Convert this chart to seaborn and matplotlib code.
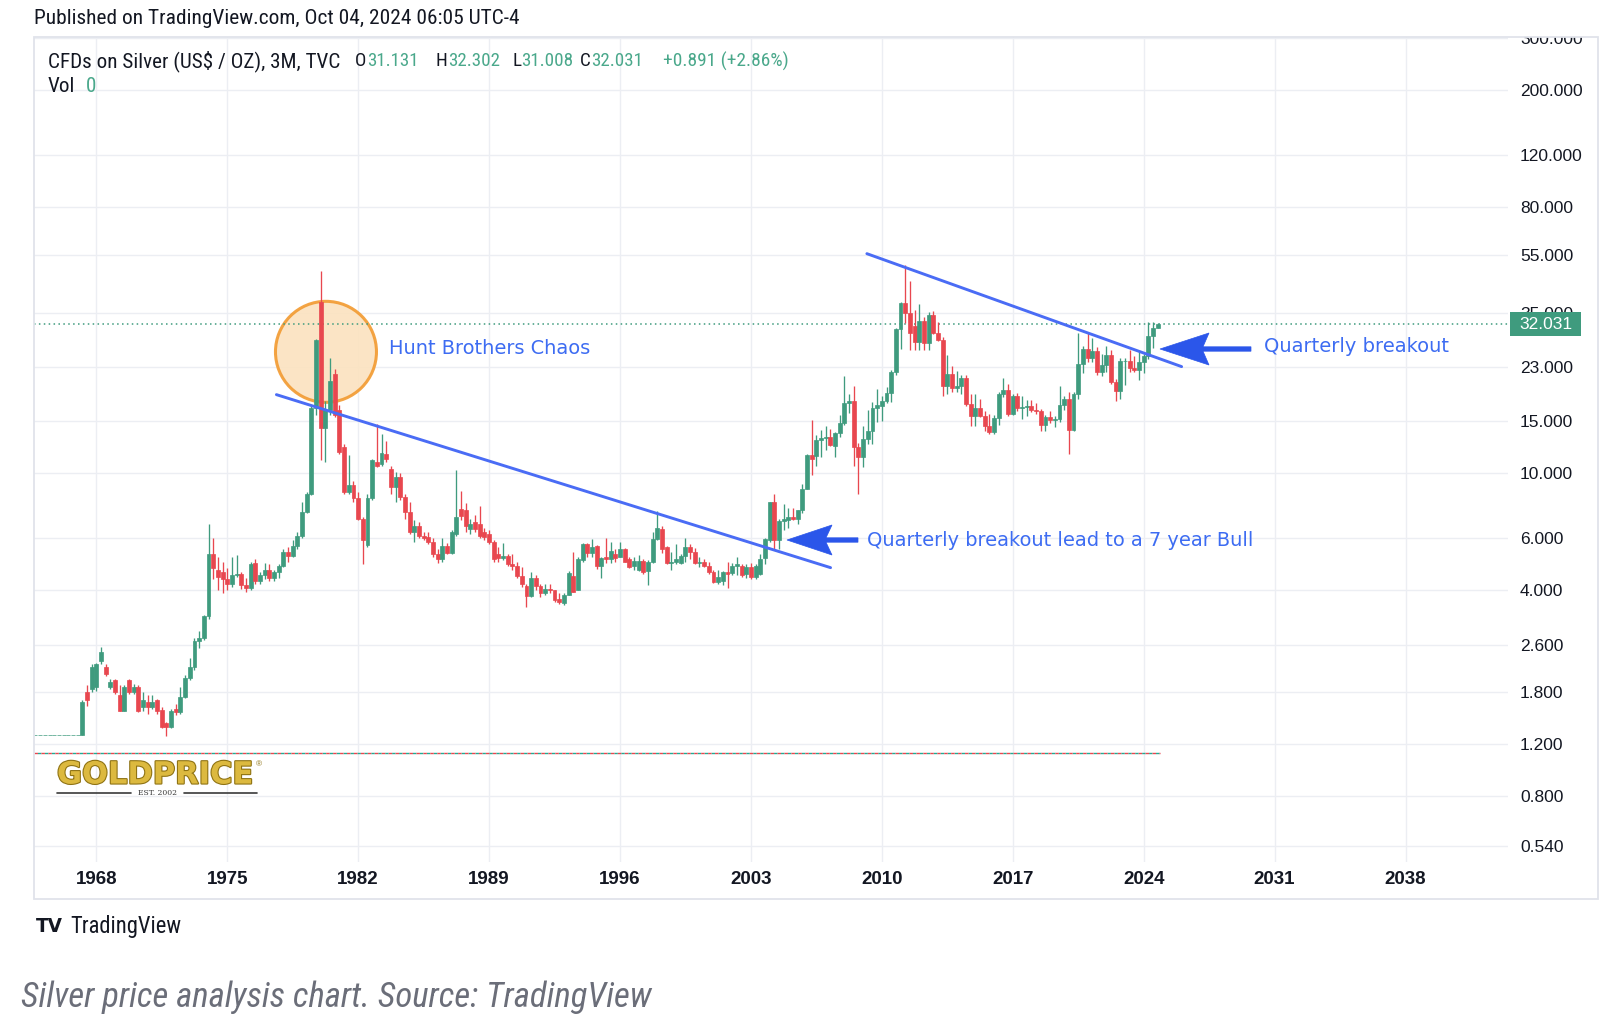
import numpy as np
import pandas as pd
import matplotlib
matplotlib.use("Agg")
import matplotlib.pyplot as plt
import matplotlib.patheffects as pe
from matplotlib.patches import Ellipse, Rectangle, Polygon
from matplotlib.transforms import IdentityTransform
from matplotlib.ticker import NullLocator
from matplotlib import font_manager as fm
import seaborn as sns

# ---------------- data (quarterly candles, TVC silver CFD) ----------------
first_quarter = "1964Q4"

opens = [
    1.293,
    1.293, 1.293, 1.293, 1.293,   # 1965
    1.293, 1.293, 1.293, 1.293,   # 1966
    1.293, 1.293, 1.80, 1.85,     # 1967
    1.87, 2.30, 2.20, 1.87,       # 1968
    1.98, 1.76, 1.56, 1.98,       # 1969
    1.80, 1.87, 1.60, 1.67,       # 1970
    1.60, 1.69, 1.57, 1.41,       # 1971
    1.37, 1.58, 1.54, 1.73,       # 1972
    2.02, 2.20, 2.68, 2.75,       # 1973
    3.26, 5.30, 4.70, 4.60,       # 1974
    4.35, 4.20, 4.50, 4.55,       # 1975
    4.18, 4.07, 4.93, 4.30,       # 1976
    4.50, 4.70, 4.40, 4.60,       # 1977
    4.85, 5.40, 5.23, 5.66,       # 1978
    6.12, 7.40, 8.50, 16.6,       # 1979
    38.0, 14.2, 16.4, 21.7,       # 1980
    16.4, 12.3, 8.6, 9.1,         # 1981
    8.2, 7.0, 5.7, 8.2,           # 1982
    10.9, 10.77, 11.56, 10.35,    # 1983
    8.96, 9.69, 8.28, 7.36,       # 1984
    6.29, 6.6, 6.12, 6.04,        # 1985
    5.81, 5.3, 5.09, 5.66,        # 1986
    5.37, 6.2, 7.55, 7.5,         # 1987
    6.45, 6.8, 6.71, 6.29,        # 1988
    6.2, 5.81, 5.3, 5.16,         # 1989
    5.23, 4.9, 4.83, 4.47,        # 1990
    4.13, 3.81, 4.41, 4.13,       # 1991
    3.9, 4.05, 4.0, 3.72,         # 1992
    3.62, 3.85, 4.47, 4.0,        # 1993
    5.05, 5.73, 5.37, 5.66,       # 1994
    4.83, 5.2, 5.09, 5.3,         # 1995
    5.2, 5.51, 5.09, 4.83,        # 1996
    4.7, 5.02, 4.65, 5.0,         # 1997
    5.96, 6.45, 5.6, 4.96,        # 1998
    5.0, 4.95, 5.23, 5.6,         # 1999
    5.4, 4.96, 4.98, 4.85,        # 2000
    4.6, 4.28, 4.3, 4.6,          # 2001
    4.59, 4.83, 4.83, 4.55,       # 2002
    4.78, 4.45, 4.55, 5.15,       # 2003
    5.9, 7.96, 5.9, 6.85,         # 2004
    6.9, 7.1, 7.0, 7.5,           # 2005
    8.85, 11.5, 11.4, 12.9,       # 2006
    13.2, 13.3, 12.4, 13.7,       # 2007
    14.8, 17.3, 17.5, 12.3,       # 2008
    11.3, 13.0, 13.9, 16.6,       # 2009
    16.9, 17.5, 18.7, 22.1,       # 2010
    30.9, 37.9, 34.9, 31.5,       # 2011
    27.9, 32.8, 27.6, 34.5,       # 2012
    30.0, 28.3, 19.7, 21.7,       # 2013
    19.5, 19.8, 21.0, 17.1,       # 2014
    15.6, 16.6, 15.6, 14.5,       # 2015
    13.8, 15.4, 18.6, 19.2,       # 2016
    15.9, 18.2, 16.6, 16.7,       # 2017
    16.9, 16.4, 16.3, 14.6,       # 2018
    15.5, 15.1, 15.3, 17.0,       # 2019
    17.9, 14.0, 18.5, 23.4,       # 2020
    26.4, 24.5, 26.0, 22.0,       # 2021
    23.3, 25.1, 20.3, 19.0,       # 2022
    24.0, 24.1, 22.8, 22.3,       # 2023
    23.8, 24.9, 29.1, 31.131,     # 2024
]

highs = [
    1.293,
    1.293, 1.293, 1.293, 1.293,   # 1965
    1.293, 1.293, 1.293, 1.293,   # 1966
    1.293, 1.70, 1.90, 2.24,      # 1967
    2.26, 2.56, 2.24, 2.00,       # 1968
    2.00, 1.90, 1.90, 2.00,       # 1969
    1.92, 1.90, 1.80, 1.76,       # 1970
    1.76, 1.71, 1.60, 1.43,       # 1971
    1.58, 1.64, 1.87, 2.06,       # 1972
    2.35, 2.75, 2.90, 3.30,       # 1973
    6.71, 6.00, 5.20, 5.00,       # 1974
    4.75, 5.20, 5.25, 4.60,       # 1975
    4.40, 5.00, 5.10, 4.60,       # 1976
    4.95, 4.90, 4.70, 4.90,       # 1977
    5.50, 5.60, 5.90, 6.30,       # 1978
    7.96, 8.60, 17.0, 28.5,       # 1979
    48.5, 17.5, 24.6, 22.5,       # 1980
    17.0, 12.5, 11.5, 9.4,        # 1981
    8.6, 7.1, 8.5, 11.2,          # 1982
    14.7, 13.6, 12.8, 10.6,       # 1983
    10.1, 10.0, 8.5, 7.96,        # 1984
    6.9, 6.8, 6.3, 6.3,           # 1985
    6.0, 5.5, 6.0, 5.8,           # 1986
    6.4, 10.2, 8.7, 7.9,          # 1987
    7.0, 7.2, 7.75, 6.5,          # 1988
    6.4, 5.9, 5.6, 5.8,           # 1989
    5.3, 5.3, 5.0, 4.8,           # 1990
    4.2, 4.6, 4.5, 4.2,           # 1991
    4.2, 4.2, 4.02, 3.9,          # 1992
    3.9, 4.65, 5.4, 5.2,          # 1993
    5.8, 5.8, 5.96, 5.7,          # 1994
    5.2, 6.0, 5.81, 5.5,          # 1995
    5.85, 5.55, 5.2, 5.2,         # 1996
    5.25, 5.1, 5.05, 6.3,         # 1997
    7.45, 6.6, 5.65, 5.4,         # 1998
    5.73, 5.3, 6.0, 5.75,         # 1999
    5.55, 5.2, 5.1, 5.0,          # 2000
    4.7, 4.7, 4.65, 5.0,          # 2001
    4.96, 5.2, 4.9, 4.9,          # 2002
    4.96, 4.9, 5.3, 6.0,          # 2003
    8.0, 8.5, 7.0, 7.86,          # 2004
    7.6, 7.6, 7.5, 9.2,           # 2005
    11.6, 15.15, 13.5, 14.0,      # 2006
    14.5, 14.1, 13.8, 15.8,       # 2007
    21.3, 18.6, 19.7, 12.6,       # 2008
    14.4, 16.4, 17.4, 19.3,       # 2009
    18.2, 19.6, 22.3, 31.2,       # 2010
    38.2, 50.8, 45.0, 35.8,       # 2011
    37.5, 33.8, 35.3, 35.4,       # 2012
    32.5, 28.9, 25.1, 23.1,       # 2013
    22.2, 21.6, 21.6, 18.5,       # 2014
    18.5, 17.8, 16.2, 15.9,       # 2015
    15.8, 18.8, 21.1, 20.0,       # 2016
    18.6, 18.7, 18.2, 17.7,       # 2017
    17.7, 17.3, 16.5, 15.7,       # 2018
    16.2, 15.6, 19.7, 18.2,       # 2019
    18.9, 18.9, 29.9, 26.9,       # 2020
    30.1, 28.8, 26.7, 25.4,       # 2021
    27.0, 26.2, 20.9, 24.6,       # 2022
    24.6, 26.1, 25.0, 25.9,       # 2023
    25.3, 32.5, 32.7, 32.302,     # 2024
]

lows = [
    1.293,
    1.293, 1.293, 1.293, 1.293,   # 1965
    1.293, 1.293, 1.293, 1.293,   # 1966
    1.293, 1.29, 1.62, 1.80,      # 1967
    1.82, 2.25, 2.04, 1.85,       # 1968
    1.78, 1.55, 1.55, 1.77,       # 1969
    1.78, 1.54, 1.55, 1.52,       # 1970
    1.58, 1.52, 1.36, 1.28,       # 1971
    1.36, 1.51, 1.52, 1.72,       # 1972
    1.98, 2.15, 2.55, 2.70,       # 1973
    3.20, 4.35, 4.00, 3.92,       # 1974
    4.00, 4.10, 4.45, 4.05,       # 1975
    3.95, 4.00, 4.20, 4.20,       # 1976
    4.35, 4.30, 4.30, 4.40,       # 1977
    4.80, 5.00, 5.20, 5.50,       # 1978
    6.00, 7.30, 8.40, 15.8,       # 1979
    11.05, 10.9, 15.8, 15.5,      # 1980
    11.6, 8.5, 8.5, 8.0,          # 1981
    6.9, 4.9, 5.6, 8.1,           # 1982
    10.5, 10.6, 10.9, 8.5,        # 1983
    8.0, 8.1, 6.98, 6.2,          # 1984
    5.81, 6.0, 5.9, 5.75,         # 1985
    5.2, 4.96, 5.0, 5.3,          # 1986
    5.3, 6.1, 6.9, 6.3,           # 1987
    6.2, 6.3, 6.0, 5.9,           # 1988
    5.75, 5.0, 5.0, 5.05,         # 1989
    4.85, 4.7, 4.4, 4.1,          # 1990
    3.5, 3.8, 4.0, 3.8,           # 1991
    3.85, 3.9, 3.65, 3.6,         # 1992
    3.55, 3.85, 3.95, 4.0,        # 1993
    5.0, 5.2, 5.2, 4.71,          # 1994
    4.4, 4.96, 4.96, 5.0,         # 1995
    5.2, 5.0, 4.75, 4.7,          # 1996
    4.65, 4.55, 4.18, 4.95,       # 1997
    5.9, 5.37, 4.9, 4.7,          # 1998
    4.9, 4.9, 5.0, 5.1,           # 1999
    4.9, 4.8, 4.8, 4.55,          # 2000
    4.24, 4.2, 4.18, 4.07,        # 2001
    4.5, 4.5, 4.45, 4.4,          # 2002
    4.35, 4.35, 4.5, 4.9,         # 2003
    5.85, 5.5, 5.5, 6.4,          # 2004
    6.5, 6.9, 6.7, 7.3,           # 2005
    8.8, 9.85, 10.6, 11.3,        # 2006
    12.0, 12.4, 11.3, 13.3,       # 2007
    14.6, 16.0, 10.6, 8.5,        # 2008
    10.5, 12.5, 12.5, 14.9,       # 2009
    15.0, 17.3, 17.4, 21.6,       # 2010
    26.4, 32.3, 26.2, 26.1,       # 2011
    26.2, 26.1, 26.1, 29.7,       # 2012
    28.0, 18.2, 18.6, 18.8,       # 2013
    18.8, 18.6, 16.9, 14.4,       # 2014
    14.5, 15.5, 13.9, 13.6,       # 2015
    13.6, 14.6, 18.1, 15.6,       # 2016
    15.8, 16.2, 15.2, 15.6,       # 2017
    16.1, 15.9, 13.9, 13.9,       # 2018
    14.8, 14.3, 14.9, 16.4,       # 2019
    11.6, 13.9, 17.9, 21.9,       # 2020
    23.8, 23.8, 21.5, 21.4,       # 2021
    22.0, 20.0, 17.6, 17.9,       # 2022
    19.9, 22.1, 22.1, 20.7,       # 2023
    21.9, 24.4, 26.5, 31.008,     # 2024
]

closes = [
    1.293,
    1.293, 1.293, 1.293, 1.293,   # 1965
    1.293, 1.293, 1.293, 1.293,   # 1966
    1.293, 1.67, 1.69, 2.20,      # 1967
    2.24, 2.47, 2.08, 1.95,       # 1968
    1.80, 1.56, 1.87, 1.80,       # 1969
    1.87, 1.56, 1.69, 1.60,       # 1970
    1.67, 1.56, 1.37, 1.37,       # 1971
    1.56, 1.54, 1.73, 2.02,       # 1972
    2.20, 2.68, 2.75, 3.26,       # 1973
    5.30, 4.75, 4.45, 4.35,       # 1974
    4.20, 4.50, 4.55, 4.18,       # 1975
    4.07, 4.90, 4.30, 4.50,       # 1976
    4.70, 4.40, 4.60, 4.85,       # 1977
    5.40, 5.23, 5.66, 6.12,       # 1978
    7.36, 8.50, 16.6, 28.2,       # 1979
    14.2, 16.4, 20.6, 15.8,       # 1980
    11.8, 8.6, 9.1, 8.2,          # 1981
    7.0, 5.9, 8.2, 11.05,         # 1982
    10.6, 11.65, 11.14, 8.96,     # 1983
    9.69, 8.28, 7.36, 6.29,       # 1984
    6.6, 6.12, 6.0, 5.81,         # 1985
    5.3, 5.09, 5.66, 5.37,        # 1986
    6.29, 7.1, 7.15, 6.6,         # 1987
    6.71, 6.45, 6.12, 6.04,       # 1988
    5.81, 5.09, 5.16, 5.23,       # 1989
    4.9, 4.85, 4.47, 4.2,         # 1990
    3.81, 4.41, 4.13, 3.9,        # 1991
    4.05, 4.0, 3.7, 3.65,         # 1992
    3.85, 4.59, 3.95, 5.09,       # 1993
    5.73, 5.37, 5.6, 4.83,        # 1994
    5.15, 5.09, 5.45, 5.15,       # 1995
    5.5, 5.0, 4.8, 5.02,          # 1996
    5.02, 4.6, 5.0, 5.96,         # 1997
    6.5, 5.5, 4.96, 5.0,          # 1998
    5.1, 5.23, 5.6, 5.4,          # 1999
    4.96, 4.98, 4.85, 4.6,        # 2000
    4.28, 4.45, 4.6, 4.55,        # 2001
    4.83, 4.9, 4.5, 4.78,         # 2002
    4.42, 4.83, 5.09, 5.96,       # 2003
    7.96, 5.9, 6.89, 6.98,        # 2004
    7.1, 7.0, 7.5, 8.85,          # 2005
    11.5, 11.15, 12.9, 13.2,      # 2006
    13.3, 12.45, 13.7, 14.8,      # 2007
    17.3, 17.6, 12.3, 11.3,       # 2008
    13.0, 13.9, 16.6, 17.0,       # 2009
    17.5, 18.7, 22.1, 30.9,       # 2010
    37.9, 34.9, 30.0, 27.9,       # 2011
    32.8, 27.6, 34.5, 29.9,       # 2012
    28.3, 19.7, 21.7, 19.5,       # 2013
    19.8, 21.0, 17.1, 15.6,       # 2014
    16.6, 15.6, 14.5, 13.8,       # 2015
    15.4, 18.6, 19.2, 15.9,       # 2016
    18.2, 16.6, 16.7, 16.9,       # 2017
    16.4, 16.3, 14.6, 15.5,       # 2018
    15.1, 15.3, 17.0, 17.9,       # 2019
    14.0, 18.5, 23.4, 26.4,       # 2020
    24.5, 26.0, 22.0, 23.3,       # 2021
    25.1, 20.3, 19.0, 24.0,       # 2022
    24.1, 22.8, 22.3, 23.8,       # 2023
    24.9, 29.1, 31.131, 32.031,   # 2024
]

year_ticks = [1968, 1975, 1982, 1989, 1996, 2003, 2010, 2017, 2024, 2031, 2038]
price_ticks = [0.54, 0.8, 1.2, 1.8, 2.6, 4, 6, 10, 15, 23, 35, 55, 80, 120, 200, 300]
change_text = "+0.891 (+2.86%)"
low_line_price = 1.12
low_line_years = [1964.67, 2024.87]
support_x = [1977.63, 2007.26]
support_y = [18.46, 4.77]
resist_x = [2009.20, 2026.03]
resist_y = [55.6, 22.98]
circle_center = (1980.28, 25.8)

# ---------------- style ----------------
W, H = 1624, 1024
sns.set_theme(style="white")
available = {f.name for f in fm.fontManager.ttflist}


def pick(*names):
    for n in names:
        if n in available:
            return n
    return "DejaVu Sans"


UI = pick("Liberation Sans", "Arimo", "DejaVu Sans")
NARROW = pick("Liberation Sans Narrow", "Roboto Condensed", UI)
plt.rcParams["font.family"] = [UI, "DejaVu Sans"]

DARK = "#131722"
GREEN = "#3f9b7e"
LEG_GREEN = "#4aa88b"
RED = "#e8474f"
TEAL = "#22ab94"
BLUE_LINE = "#4a6cf5"
BLUE_TXT = "#3d6cf2"
BLUE_ARROW = "#2b56ea"
GRID = "#eceef3"

fig = plt.figure(figsize=(W / 100, H / 100), dpi=100)
fig.patch.set_facecolor("white")


def fx(x):
    return x / W


def fy(y):
    return 1 - y / H


ax = fig.add_axes([fx(34), fy(862), (1508 - 34) / W, (862 - 37) / H])
ax.set_facecolor("white")
ax.set_yscale("log")
ax.set_xlim(1964.669, 2043.48)
ax.set_ylim(0.4772, 302.7)
ax.set_xticks(year_ticks)
ax.set_xticklabels([str(y) for y in year_ticks])
ax.set_yticks(price_ticks)
ax.set_yticklabels([f"{v:.3f}" for v in price_ticks])
ax.yaxis.set_minor_locator(NullLocator())
ax.xaxis.set_minor_locator(NullLocator())
ax.yaxis.tick_right()
ax.grid(True, color=GRID, linewidth=1.0)
ax.set_axisbelow(True)
for s in ax.spines.values():
    s.set_visible(False)
ax.tick_params(axis="y", length=0, pad=8.6, labelsize=12.5, labelcolor=DARK)
ax.tick_params(axis="x", length=0, pad=6.5, labelsize=13.5, labelcolor=DARK)
for lbl in ax.get_xticklabels():
    lbl.set_fontweight("bold")

# ---------------- candles ----------------
periods = pd.period_range(first_quarter, periods=len(closes), freq="Q")
xq = periods.year.values + (periods.quarter.values - 1) / 4.0
o = np.asarray(opens, float)
h = np.asarray(highs, float)
l = np.asarray(lows, float)
c = np.asarray(closes, float)
cols = np.where(c >= o, GREEN, RED)

ax.vlines(xq, l, h, colors=cols, linewidth=0.95, zorder=4)
ax.bar(xq, np.abs(c - o), bottom=np.minimum(o, c), width=0.21, color=cols,
       edgecolor=cols, linewidth=0.5, zorder=5, align="center")

# last price dotted line and low line
ax.axhline(c[-1], color=GREEN, linestyle=(0, (1, 2.2)), linewidth=1.1, zorder=2)
ax.plot(low_line_years, [low_line_price] * 2, color=RED, gapcolor=TEAL,
        linestyle=(0, (2.5, 2.5)), linewidth=1.0, zorder=2)

# trend lines
sns.lineplot(x=support_x, y=support_y, ax=ax, color=BLUE_LINE, linewidth=2.1,
             zorder=6, legend=False)
sns.lineplot(x=resist_x, y=resist_y, ax=ax, color=BLUE_LINE, linewidth=2.1,
             zorder=6, legend=False)
ax.set_xlim(1964.669, 2043.48)
ax.set_ylim(0.4772, 302.7)
ax.set_xlabel("")
ax.set_ylabel("")

# Hunt brothers circle
cxd, cyd = ax.transData.transform(circle_center)
circ = Ellipse((cxd, cyd), 101, 101, transform=IdentityTransform(),
               facecolor="#fbe2bf", edgecolor="#f29a30", linewidth=2.2,
               alpha=0.9, zorder=1.5)
ax.add_artist(circ)


def arrow(tip_x, tip_y, base_x, half_h, tail_x, half_t):
    ty = H - tip_y
    pts = [(tip_x, ty), (base_x + 6, ty + half_h), (base_x, ty + half_t),
           (tail_x, ty + half_t), (tail_x, ty - half_t), (base_x, ty - half_t),
           (base_x + 6, ty - half_h)]
    fig.add_artist(Polygon(pts, closed=True, transform=IdentityTransform(),
                           facecolor=BLUE_ARROW, edgecolor=BLUE_ARROW,
                           linewidth=0.5, zorder=5))


arrow(787, 540, 826, 15, 858, 2.2)
arrow(1160, 349, 1203, 16, 1251, 2.2)

# ---------------- text ----------------
renderer = fig.canvas.get_renderer()


def text_px(x, y, s, **kw):
    return fig.text(fx(x), fy(y), s, **kw)


def fit(x, y, s, target, size=12, **kw):
    t = text_px(x, y, s, fontsize=size, **kw)
    w = t.get_window_extent(renderer).width
    t.set_fontsize(size * target / w)
    return t


fit(389, 349, "Hunt Brothers Chaos", 201, va="center", ha="left",
    color=BLUE_TXT, family=["DejaVu Sans"])
fit(867, 540, "Quarterly breakout lead to a 7 year Bull", 384, va="center",
    ha="left", color=BLUE_TXT, family=["DejaVu Sans"])
fit(1264, 347, "Quarterly breakout", 184, va="center", ha="left",
    color=BLUE_TXT, family=["DejaVu Sans"])

fit(34, 19, "Published on TradingView.com, Oct 04, 2024 06:05 UTC-4", 485,
    va="center", ha="left", color=DARK, family=[NARROW])

leg = fit(48, 61, "CFDs on Silver (US$ / OZ), 3M, TVC", 291, va="center",
          ha="left", color=DARK, family=[NARROW])
ls = leg.get_fontsize()
vs = ls * 0.9
pieces = [(355, "O", opens[-1]), (436, "H", highs[-1]), (512, "L", lows[-1]),
          (580, "C", closes[-1])]
for x0, letter, val in pieces:
    tl = text_px(x0, 61, letter, fontsize=vs, va="center", ha="left", color=DARK,
                 family=[NARROW])
    wl = tl.get_window_extent(renderer).width
    text_px(x0 + wl + 0.5, 61, f"{val:.3f}", fontsize=vs, va="center",
            ha="left", color=LEG_GREEN, family=[NARROW])
fit(663, 61, change_text, 125, va="center", ha="left", color=LEG_GREEN,
    family=[NARROW])
text_px(48, 87, "Vol", fontsize=ls, va="center", ha="left", color=DARK,
        family=[NARROW])
text_px(86, 87, "0", fontsize=ls, va="center", ha="left", color=LEG_GREEN,
        family=[NARROW])

# price label box
ylp = ax.transData.transform((2000, c[-1]))[1]
fig.add_artist(Rectangle((1510, ylp - 12), 71, 24, transform=IdentityTransform(),
                         facecolor=GREEN, edgecolor="none", zorder=3))
fig.text(1545.5, ylp, f"{c[-1]:.3f}", transform=IdentityTransform(),
         fontsize=12.5, color="white", ha="center", va="center", zorder=4)

# cover above pane (clips the 300 label) + pane border
fig.add_artist(Rectangle((1509, H - 36.5), 114, 36.5, transform=IdentityTransform(),
                         facecolor="white", edgecolor="none", zorder=3))
fig.add_artist(Rectangle((34, H - 899), 1598 - 34, 899 - 37,
                         transform=IdentityTransform(), fill=False,
                         edgecolor="#e0e3eb", linewidth=1.3, zorder=5))

# GOLDPRICE logo
gp = fit(57, 775, "GOLDPRICE", 196, va="center", ha="left", color="#dcb93f",
         fontweight="heavy", family=["DejaVu Sans"])
gp.set_path_effects([pe.withStroke(linewidth=1.6, foreground="#8f7314")])
text_px(256, 765, "®", fontsize=6, va="center", ha="left", color="#8f7314")
fig.add_artist(plt.Line2D([fx(57), fx(131)], [fy(793), fy(793)], color="#3a3a3a",
                          linewidth=1.2, transform=fig.transFigure))
fig.add_artist(plt.Line2D([fx(184), fx(257)], [fy(793), fy(793)], color="#3a3a3a",
                          linewidth=1.2, transform=fig.transFigure))
text_px(157.5, 793, "EST. 2002", fontsize=5.5, va="center", ha="center",
        color="#3a3a3a", family=["DejaVu Serif"])

# footer
fit(36, 926, "TV", 27, va="center", ha="left", color=DARK, fontweight="heavy",
    family=["DejaVu Sans"])
fit(70, 926, "TradingView", 111, va="center", ha="left", color=DARK,
    family=[NARROW])
fit(21, 997, "Silver price analysis chart. Source: TradingView", 629,
    va="center", ha="left", color="#6b6e79", style="italic", family=[NARROW])

fig.savefig("out.png", dpi=100, facecolor="white")
